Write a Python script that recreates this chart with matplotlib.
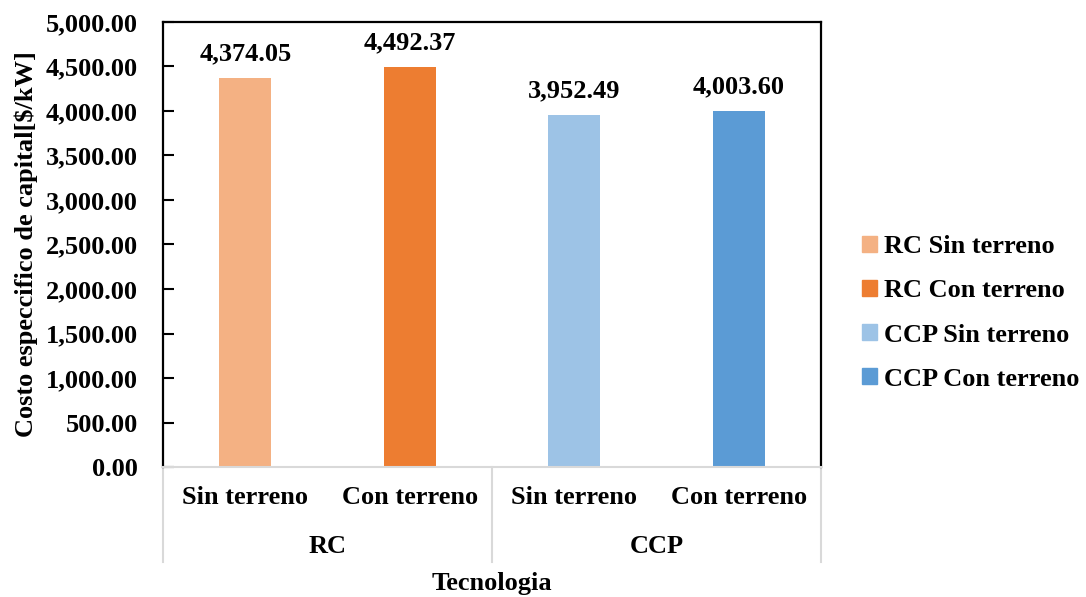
import matplotlib.pyplot as plt
from matplotlib.patches import Patch

plt.rcParams['font.family'] = ['Liberation Serif', 'DejaVu Serif']
plt.rcParams['font.weight'] = 'bold'
plt.rcParams['axes.labelweight'] = 'bold'

categories = ["Sin terreno", "Con terreno", "Sin terreno", "Con terreno"]
groups = ["RC", "CCP"]
series_names = ["RC Sin terreno", "RC Con terreno", "CCP Sin terreno", "CCP Con terreno"]
values = [4374.05, 4492.37, 3952.49, 4003.60]
colors = ["#f4b183", "#ed7d31", "#9dc3e6", "#5b9bd5"]

fs = 19

fig = plt.figure(figsize=(10.86, 5.97), dpi=100)
ax = fig.add_axes([163 / 1086, 130 / 597, 658 / 1086, 445 / 597])

x = list(range(len(values)))
ax.bar(x, values, width=0.316, color=colors, zorder=2)

ax.set_xlim(-0.5, 3.5)
ax.set_ylim(0, 5000)
ax.set_yticks(range(0, 5001, 500))
ax.set_yticklabels([f"{v:,.2f}" for v in range(0, 5001, 500)])
ax.tick_params(axis='y', direction='in', length=8, width=1.5, labelsize=fs, pad=18)
ax.set_xticks([])

for s in ['left', 'top', 'right']:
    ax.spines[s].set_linewidth(1.6)
    ax.spines[s].set_color('black')
ax.spines['bottom'].set_color('#d9d9d9')
ax.spines['bottom'].set_linewidth(1.5)

# value labels
for i, v in enumerate(values):
    ax.annotate(f"{v:,.2f}", (i, v), xytext=(0, 9), textcoords='offset points',
                ha='center', va='bottom', fontsize=fs, fontweight='bold')

# multi-level category axis
tr = ax.get_xaxis_transform()
for i, c in enumerate(categories):
    ax.text(i, -0.069, c, transform=tr, ha='center', va='center', fontsize=fs)
for j, g in enumerate(groups):
    ax.text(2 * j + 0.5, -0.179, g, transform=tr, ha='center', va='center', fontsize=fs)
for xs in [-0.5, 1.5, 3.5]:
    ax.plot([xs, xs], [0, -0.213], transform=tr, color='#d9d9d9', lw=1.5, clip_on=False)

ax.text(1.5, -0.262, "Tecnologia", transform=tr, ha='center', va='center', fontsize=fs)
ax.set_ylabel("Costo especcifico de capital[$/kW]", fontsize=fs, labelpad=6)

handles = [Patch(color=c, label=n) for c, n in zip(colors, series_names)]
fig.legend(handles=handles, loc='center left', bbox_to_anchor=(862 / 1086, 1 - 313 / 597),
           frameon=False, fontsize=fs, handlelength=0.55, handleheight=0.55,
           handletextpad=0.3, labelspacing=0.8, borderpad=0, borderaxespad=0)

fig.savefig("out.png", dpi=100)
